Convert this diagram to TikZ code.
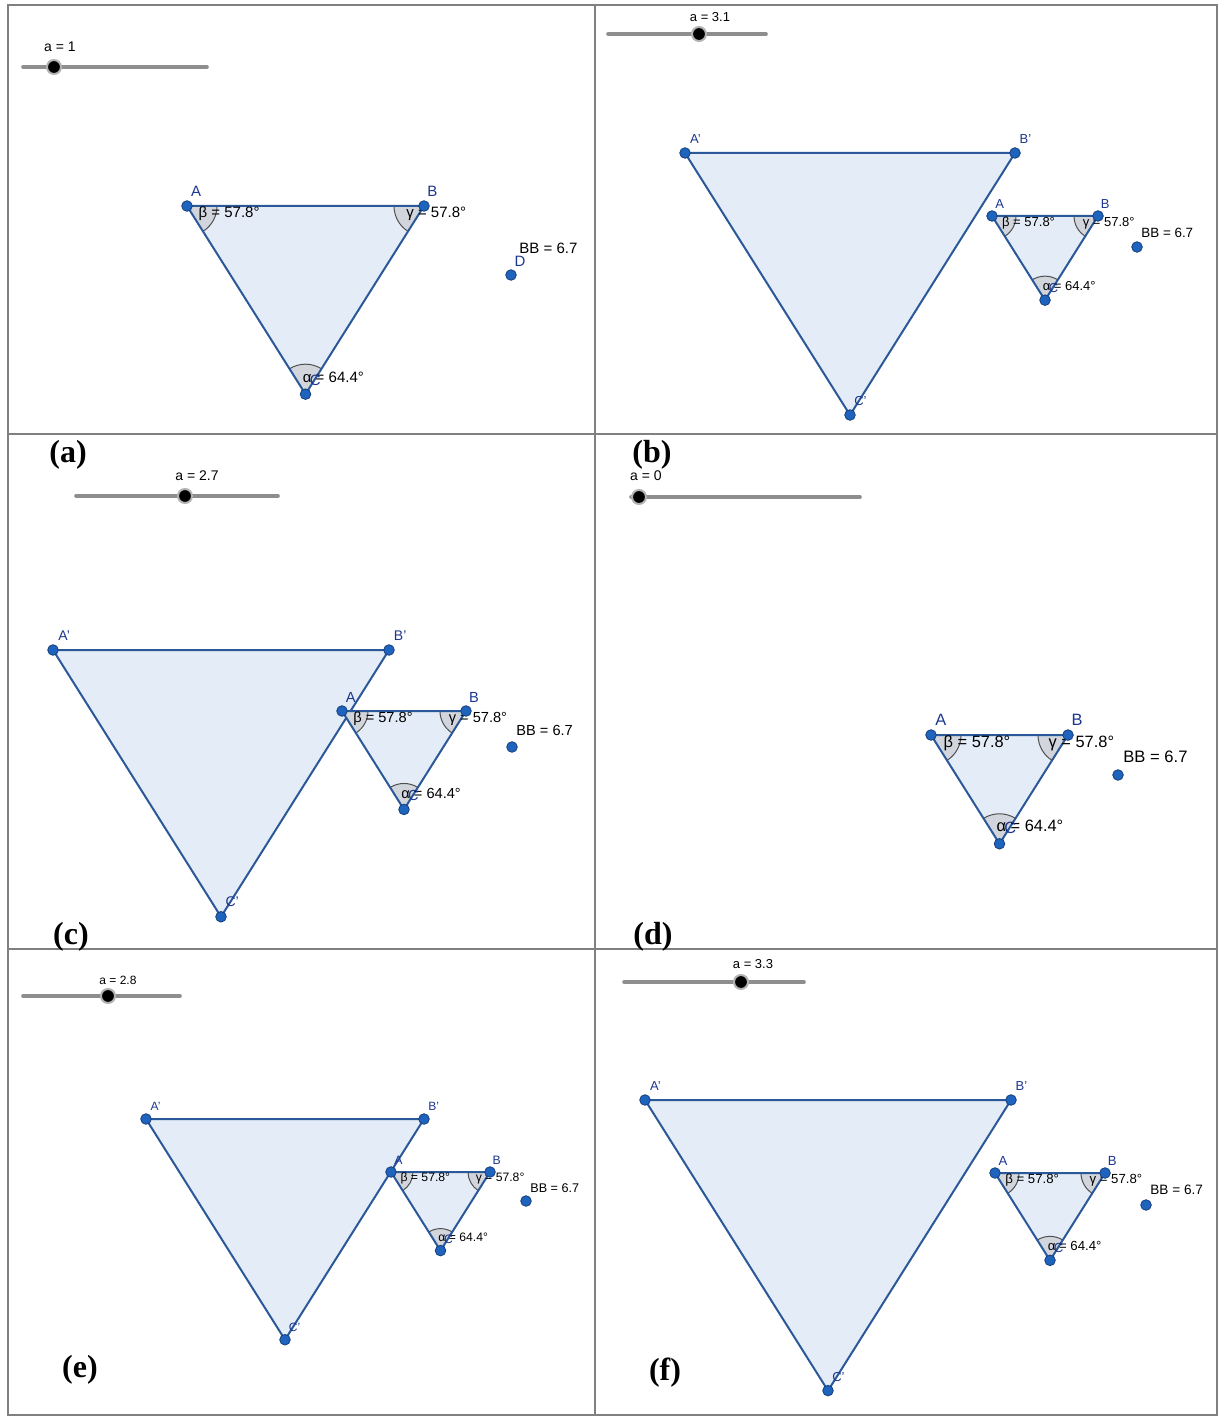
\documentclass[tikz,border=0pt]{standalone}
\usepackage{fontspec}
\setmainfont{Liberation Serif}
\setsansfont{Liberation Sans}
\usetikzlibrary{calc,angles}

\definecolor{trifill}{HTML}{E4ECF7}
\definecolor{triline}{HTML}{2A5898}
\definecolor{ptblue}{HTML}{1E63BE}
\definecolor{ptline}{HTML}{163F7A}
\definecolor{lblblue}{HTML}{1C3690}
\definecolor{angfill}{HTML}{D2D6DC}
\definecolor{angline}{HTML}{505050}
\definecolor{framegray}{HTML}{808080}
\definecolor{slidegray}{HTML}{8E8E8E}

\tikzset{
	frame/.style={draw=framegray, line width=1pt},
	tri/.style={fill=trifill},
	triedge/.style={draw=triline, line width=1pt, line join=round},
	ang/.style={draw=angline, fill=angfill, line width=0.5pt},
	pt/.style={circle, fill=ptblue, draw=ptline, line width=0.4pt, inner sep=0pt, minimum size=5.3pt},
	vlbl/.style={text=lblblue, inner sep=0pt},
	txt/.style={anchor=base west, inner sep=0pt},
	slider/.style={draw=slidegray, line width=1.8pt, line cap=round},
	knob/.style={circle, fill=black, draw=gray!60, line width=1pt, inner sep=0pt, minimum size=7pt},
	panel/.style={font=\bfseries\fontsize{16}{16}\selectfont, inner sep=0pt},
}

% small triangle with its angles: name, x and y of A, width, font size, angle radius
\newcommand{\geotri}[6]{%
	\coordinate (#1A) at (#2,#3);
	\coordinate (#1B) at (#2+#4,#3);
	\coordinate (#1C) at (#2+#4/2,#3-0.794*#4);
	\fill[tri] (#1A) -- (#1B) -- (#1C) -- cycle;
	\pic[ang, angle radius=#6pt] {angle=#1C--#1A--#1B};
	\pic[ang, angle radius=#6pt] {angle=#1A--#1B--#1C};
	\pic[ang, angle radius=#6pt] {angle=#1B--#1C--#1A};
	\draw[triedge] (#1A) -- (#1B) -- (#1C) -- cycle;
	\begin{scope}[every node/.append style={font=\sffamily\fontsize{#5}{#5}\selectfont}]
		\node[txt] (#1beta) at ($(#1A)+(1.5*#5,-1.56*#5)$) {β = 57.8°};
		\node[txt] (#1gamma) at ($(#1B)+(-2.4*#5,-1.56*#5)$) {γ = 57.8°};
		\node[txt] (#1alpha) at ($(#1C)+(-0.4*#5,1.5*#5)$) {α = 64.4°};
		\node[vlbl] (#1lA) at ($(#1A)+(1.2*#5,1.9*#5)$) {A};
		\node[vlbl] (#1lB) at ($(#1B)+(1.1*#5,1.9*#5)$) {B};
		\node[vlbl] (#1lC) at ($(#1C)+(1.3*#5,1.9*#5)$) {C};
	\end{scope}
	\node[pt] (#1pA) at (#1A) {};
	\node[pt] (#1pB) at (#1B) {};
	\node[pt] (#1pC) at (#1C) {};
}

% image triangle: name, x and y of A', width, font size
\newcommand{\bigtri}[5]{%
	\coordinate (#1A) at (#2,#3);
	\coordinate (#1B) at (#2+#4,#3);
	\coordinate (#1C) at (#2+#4/2,#3-0.794*#4);
	\filldraw[tri, triedge] (#1A) -- (#1B) -- (#1C) -- cycle;
	\begin{scope}[every node/.append style={font=\sffamily\fontsize{#5}{#5}\selectfont}]
		\node[vlbl] (#1lA) at ($(#1A)+(1.6*#5,2.1*#5)$) {A'};
		\node[vlbl] (#1lB) at ($(#1B)+(1.6*#5,2.1*#5)$) {B'};
		\node[vlbl] (#1lC) at ($(#1C)+(1.6*#5,2.1*#5)$) {C'};
	\end{scope}
	\node[pt] (#1pA) at (#1A) {};
	\node[pt] (#1pB) at (#1B) {};
	\node[pt] (#1pC) at (#1C) {};
}

\begin{document}
\begin{tikzpicture}[x=0.5pt, y=0.5pt, font=\sffamily\fontsize{7}{7}\selectfont]
	\useasboundingbox (0,0) rectangle (1219,-1416);

	% (a)
	\draw[slider] (23,-67) coordinate (sa1) -- (207,-67) coordinate (sa2);
	\node[knob] (ka) at (54,-67) {};
	\node (ta) at (60,-47) {a = 1};
	\geotri{a}{187}{-206}{237}{7.5}{15}
	\node[pt] (pa) at (511,-275) {};
	\node[vlbl, font=\sffamily\fontsize{7.5}{7.5}\selectfont] (da) at (520,-261) {D};
	\node[txt, font=\sffamily\fontsize{7.5}{7.5}\selectfont] (ba) at (519,-253.5) {BB = 6.7};

	% (b)
	\draw[slider] (608,-34) coordinate (sb1) -- (766,-34) coordinate (sb2);
	\node[knob] (kb) at (699,-34) {};
	\node[font=\sffamily\fontsize{6.5}{6.5}\selectfont] (tb) at (710,-17) {a = 3.1};
	\bigtri{bb}{685}{-153}{330}{6.5}
	\geotri{b}{992}{-216}{106}{6.5}{12}
	\node[pt] (pb) at (1137,-247) {};
	\node[txt, font=\sffamily\fontsize{6.7}{6.7}\selectfont] (bb) at (1141,-237.5) {BB = 6.7};

	% (c)
	\draw[slider] (76,-496) coordinate (sc1) -- (278,-496) coordinate (sc2);
	\node[knob] (kc) at (185,-496) {};
	\node (tc) at (197,-476) {a = 2.7};
	\bigtri{cc}{53}{-650}{336}{7}
	\geotri{c}{342}{-711}{124}{7.3}{13}
	\node[pt] (pc) at (512,-747) {};
	\node[txt, font=\sffamily\fontsize{7.3}{7.3}\selectfont] (bc) at (516,-735) {BB = 6.7};

	% (d)
	\draw[slider] (631,-497) coordinate (sd1) -- (860,-497) coordinate (sd2);
	\node[knob] (kd) at (639,-497) {};
	\node (td) at (646,-476) {a = 0};
	\geotri{d}{931}{-735}{137}{8.2}{15}
	\node[pt] (pd) at (1118,-775) {};
	\node[txt, font=\sffamily\fontsize{8.3}{8.3}\selectfont] (bd) at (1123,-762) {BB = 6.7};

	% (e)
	\draw[slider] (23,-996) coordinate (se1) -- (180,-996) coordinate (se2);
	\node[knob] (ke) at (108,-996) {};
	\node[font=\sffamily\fontsize{6}{6}\selectfont] (te) at (118,-980) {a = 2.8};
	\bigtri{ee}{146}{-1119}{278}{6}
	\geotri{e}{391}{-1172}{99}{6.1}{11}
	\node[pt] (pe) at (526,-1201) {};
	\node[txt, font=\sffamily\fontsize{6.3}{6.3}\selectfont] (be) at (530,-1192) {BB = 6.7};

	% (f)
	\draw[slider] (624,-982) coordinate (sf1) -- (804,-982) coordinate (sf2);
	\node[knob] (kf) at (741,-982) {};
	\node[font=\sffamily\fontsize{6.5}{6.5}\selectfont] (tf) at (753,-964) {a = 3.3};
	\bigtri{ff}{645}{-1100}{366}{6.5}
	\geotri{f}{995}{-1173}{110}{6.6}{12}
	\node[pt] (pf) at (1146,-1205) {};
	\node[txt, font=\sffamily\fontsize{6.8}{6.8}\selectfont] (bf) at (1150,-1194) {BB = 6.7};

	% table lines
	\draw[frame] (8,-5) rectangle (1217,-1415);
	\draw[frame] (595,-5) -- (595,-1415);
	\draw[frame] (8,-434) -- (1217,-434);
	\draw[frame] (8,-949) -- (1217,-949);

	% captions
	\node[panel] (la) at (68,-455) {(a)};
	\node[panel] (lb) at (652,-455) {(b)};
	\node[panel] (lc) at (71,-937) {(c)};
	\node[panel] (ld) at (653,-937) {(d)};
	\node[panel] (le) at (80,-1370) {(e)};
	\node[panel] (lf) at (665,-1373) {(f)};
\end{tikzpicture}
\end{document}
